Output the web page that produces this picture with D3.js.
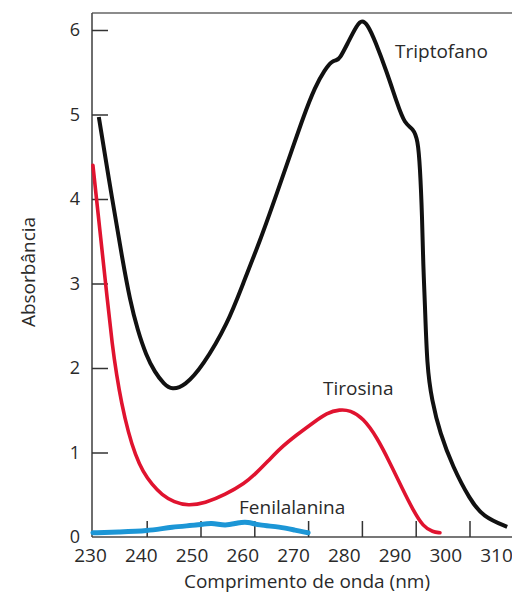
<!DOCTYPE html>
<html>
<head>
<meta charset="utf-8">
<script src="https://cdn.jsdelivr.net/npm/d3@7"></script>
<style>
  html, body { margin: 0; padding: 0; background: #fff; }
  svg { display: block; font-family: "Open Sans", sans-serif; }
</style>
</head>
<body>
<svg id="chart" width="512" height="595"></svg>
<script>
// absorbance spectra of the aromatic amino acids (wavelength nm, absorbance)
const triptofano = [
  [231.1, 4.97], [233.6, 3.99], [235.5, 3.28], [236.9, 2.80], [238.3, 2.45],
  [239.9, 2.15], [241.5, 1.95], [243.2, 1.81], [244.7, 1.74], [247.1, 1.79],
  [250.3, 2.01], [255.1, 2.53], [257.9, 3.00], [261.1, 3.51], [264.2, 4.07],
  [267.0, 4.58], [269.1, 4.97], [271.3, 5.33], [273.1, 5.53], [274.4, 5.63],
  [275.2, 5.64], [275.9, 5.66], [277.4, 5.85], [279.1, 6.06], [280.0, 6.12],
  [281.1, 6.06], [282.4, 5.88], [284.7, 5.49], [286.5, 5.14], [288.0, 4.88],
  [289.5, 4.84], [290.4, 4.70], [290.8, 4.38], [291.2, 3.79], [291.4, 3.20],
  [291.7, 2.80], [292.1, 2.01], [293.0, 1.62], [294.5, 1.23], [296.9, 0.83],
  [300.1, 0.44], [302.5, 0.24], [307.0, 0.12]
];
const tirosina = [
  [230.0, 4.40], [231.5, 3.51], [232.7, 2.80], [233.6, 2.27], [234.4, 1.92],
  [235.3, 1.59], [236.6, 1.23], [237.9, 0.97], [239.3, 0.77], [241.0, 0.62],
  [242.8, 0.50], [245.1, 0.41], [247.7, 0.37], [250.8, 0.40], [254.6, 0.50],
  [258.3, 0.64], [260.1, 0.74], [262.6, 0.90], [264.8, 1.05], [267.9, 1.21],
  [270.9, 1.35], [273.5, 1.47], [275.9, 1.51], [277.8, 1.50], [280.2, 1.41],
  [282.8, 1.18], [285.2, 0.88], [287.6, 0.56], [289.5, 0.32], [291.4, 0.12],
  [293.2, 0.06], [294.5, 0.05]
];
const fenilalanina = [
  [230.0, 0.05], [234.7, 0.06], [240.1, 0.07], [244.7, 0.12], [249.5, 0.14],
  [252.1, 0.17], [254.6, 0.13], [257.0, 0.17], [258.8, 0.18], [260.7, 0.14],
  [264.8, 0.12], [267.6, 0.08], [270.0, 0.05]
];

const xTicks = [240, 250, 260, 270, 280, 290, 300];
const xLabels = [230, 240, 250, 260, 270, 280, 290, 300, 310];
const yTicks = [1, 2, 3, 4, 5, 6];
const yLabels = [0, 1, 2, 3, 4, 5, 6];

const svg = d3.select("#chart");
const mLeft = 92, mTop = 13, mBottom = 537, mRight = 512;

// data scale (tick marks follow it), label scale sits a bit off like the source figure
const x = d3.scaleLinear().domain([230, 310]).range([92.9, 92.9 + 8 * 53.8]);
const xLab = d3.scaleLinear().domain([230, 310]).range([90, 496]);
const y = d3.scaleLinear().domain([0, 6]).range([mBottom, 30]);

const axisColor = "#4a4a4a";
const textColor = "#2a2a2a";

// frame: top and left, bottom axis line
svg.append("line").attr("x1", mLeft).attr("x2", mRight).attr("y1", mTop).attr("y2", mTop)
  .attr("stroke", "#666").attr("stroke-width", 1.5);
svg.append("line").attr("x1", mLeft).attr("x2", mLeft).attr("y1", mTop).attr("y2", mBottom)
  .attr("stroke", axisColor).attr("stroke-width", 1.6);
svg.append("line").attr("x1", mLeft).attr("x2", mRight).attr("y1", mBottom).attr("y2", mBottom)
  .attr("stroke", axisColor).attr("stroke-width", 1.6);

// y ticks pointing inward
const gy = svg.append("g").attr("transform", `translate(${mLeft},0)`)
  .call(d3.axisLeft(y).tickValues(yTicks).tickSize(-16).tickFormat(""));
gy.select(".domain").remove();
gy.selectAll(".tick line").attr("stroke", "#333").attr("stroke-width", 1.5);

const gyl = svg.append("g").attr("transform", `translate(${mLeft},0)`)
  .call(d3.axisLeft(y).tickValues(yLabels).tickSize(0).tickPadding(12).tickFormat(d3.format("d")));
gyl.select(".domain").remove();
gyl.selectAll(".tick text").attr("fill", textColor)
  .style("font-size", "18px").style("font-family", "'Open Sans', sans-serif");

// x ticks pointing inward
const gx = svg.append("g").attr("transform", `translate(0,${mBottom})`)
  .call(d3.axisBottom(x).tickValues(xTicks).tickSize(-16).tickFormat(""));
gx.select(".domain").remove();
gx.selectAll(".tick line").attr("stroke", "#333").attr("stroke-width", 1.5);

const gxl = svg.append("g").attr("transform", `translate(0,${mBottom})`)
  .call(d3.axisBottom(xLab).tickValues(xLabels).tickSize(0).tickPadding(12).tickFormat(d3.format("d")));
gxl.select(".domain").remove();
gxl.selectAll(".tick text").attr("fill", textColor)
  .style("font-size", "19px").style("font-family", "'Open Sans', sans-serif");

// curves
const line = d3.line().x(d => x(d[0])).y(d => y(d[1])).curve(d3.curveBasis);

svg.append("path").datum(fenilalanina).attr("d", line)
  .attr("fill", "none").attr("stroke", "#1c96d6").attr("stroke-width", 5)
  .attr("stroke-linecap", "round").attr("stroke-linejoin", "round");
svg.append("path").datum(tirosina).attr("d", line)
  .attr("fill", "none").attr("stroke", "#e0132f").attr("stroke-width", 3.6)
  .attr("stroke-linecap", "round").attr("stroke-linejoin", "round");
svg.append("path").datum(triptofano).attr("d", line)
  .attr("fill", "none").attr("stroke", "#111").attr("stroke-width", 4)
  .attr("stroke-linecap", "butt").attr("stroke-linejoin", "round");

// curve labels
const labels = [
  { text: "Triptofano", x: 395, y: 58 },
  { text: "Tirosina", x: 323, y: 395 },
  { text: "Fenilalanina", x: 239, y: 514 }
];
svg.selectAll(".clabel").data(labels).join("text")
  .attr("class", "clabel")
  .attr("x", d => d.x).attr("y", d => d.y)
  .attr("fill", textColor).style("font-size", "19px")
  .text(d => d.text);

// axis titles
svg.append("text").attr("x", 307).attr("y", 588).attr("text-anchor", "middle")
  .attr("fill", textColor).style("font-size", "19px")
  .text("Comprimento de onda (nm)");
svg.append("text").attr("transform", "translate(35,272) rotate(-90)")
  .attr("text-anchor", "middle").attr("fill", textColor).style("font-size", "19px")
  .text("Absorbância");
</script>
</body>
</html>
